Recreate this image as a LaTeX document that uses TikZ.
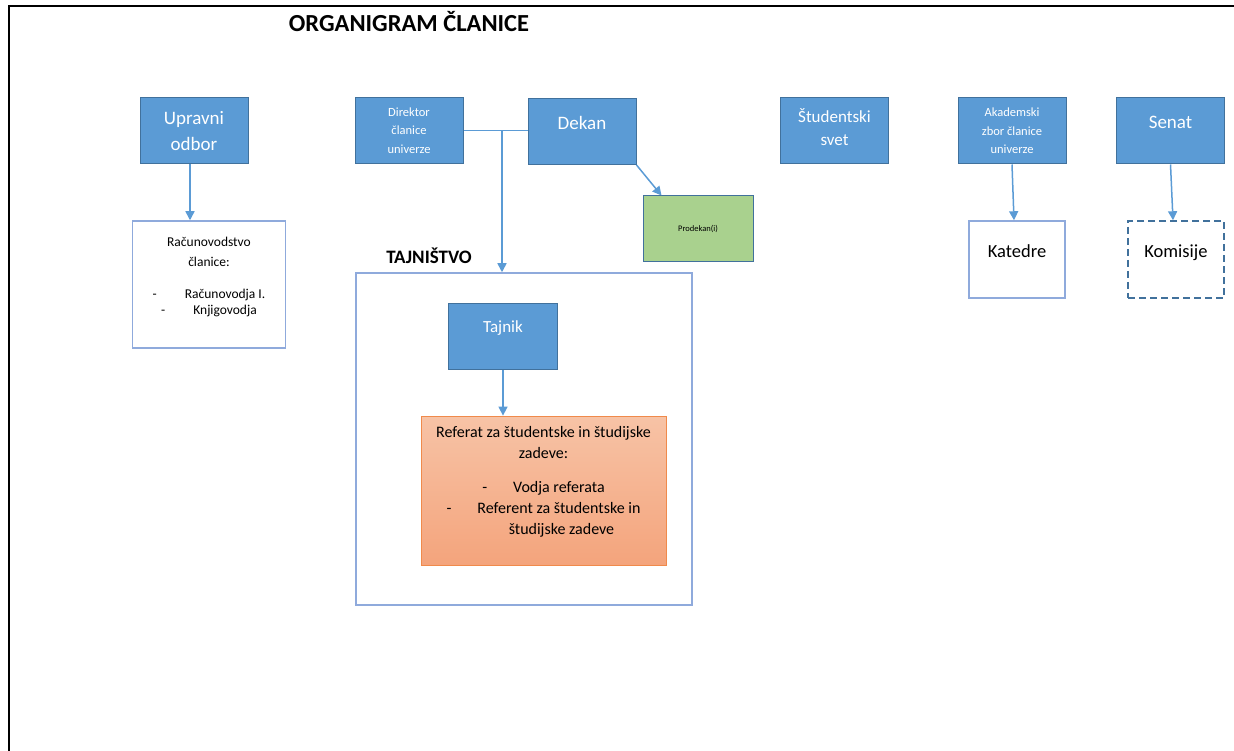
\documentclass[tikz,border=0pt]{standalone}
\usepackage{fontspec}
\setmainfont{Carlito}
\usepackage{tikz}
\usetikzlibrary{calc}
\usetikzlibrary{arrows.meta}
\usetikzlibrary{positioning}

\definecolor{boxblue}{HTML}{5B9BD5}
\definecolor{edgeblue}{HTML}{41719C}
\definecolor{paleblue}{HTML}{8FAADC}
\definecolor{linkblue}{HTML}{5B9BD5}
\definecolor{prodgreen}{HTML}{A9D18E}
\definecolor{reftop}{HTML}{F7C3A6}
\definecolor{refbot}{HTML}{F4A47C}
\definecolor{refedge}{HTML}{F08A4B}

\tikzset{
 bluebox/.style={draw=edgeblue, fill=boxblue, line width=1pt, text=white, inner sep=0pt, align=center, minimum width=108pt, minimum height=66pt},
 whitebox/.style={draw=paleblue, fill=white, line width=1.5pt, inner sep=0pt},
 link/.style={draw=linkblue, line width=1.5pt},
 linkarrow/.style={link, -{Triangle[width=9pt,length=9pt]}},
 bigtxt/.style={font=\fontsize{19}{26}\selectfont},
 midtxt/.style={font=\fontsize{17}{23}\selectfont},
 smalltxt/.style={font=\fontsize{12.5}{18.5}\selectfont},
}

\begin{document}
\begin{tikzpicture}[x=1pt, y=-1pt]
\useasboundingbox (0,0) rectangle (1234,751);
\draw[black, line width=2pt] (9,751) -- (9,6) -- (1234,6);
\node[font=\fontsize{24.5}{28}\selectfont\bfseries] (naslov) at (409,22) {ORGANIGRAM ČLANICE};

% zgornja vrsta
\node[bluebox, bigtxt] (upravni) at (194,131) {Upravni\\odbor};
\node[bluebox, smalltxt] (direktor) at (409,130.5) {Direktor\\članice\\univerze};
\node[bluebox, bigtxt, text depth=17pt] (dekan) at (582,131.5) {Dekan};
\node[bluebox, midtxt, text depth=7pt] (studsvet) at (834.5,131) {Študentski\\svet};
\node[bluebox, smalltxt] (akademski) at (1012,131) {Akademski\\zbor članice\\univerze};
\node[bluebox, bigtxt, text depth=17pt] (senat) at (1170.5,131) {Senat};

% racunovodstvo
\node[whitebox, minimum width=153pt, minimum height=127pt] (racun) at (209,284.5) {};
\node[anchor=north, align=center, inner sep=0pt, font=\fontsize{13.5}{20}\selectfont] (racuntxt) at ($(racun.north)+(0,16.5)$) {Računovodstvo\\članice:\\[12pt]-\hspace{28pt}Računovodja I.\\[-4pt]-\hspace{28pt}Knjigovodja};

\node[draw=edgeblue, fill=prodgreen, line width=1pt, inner sep=0pt, minimum width=110pt, minimum height=66pt, font=\fontsize{8.5}{10}\selectfont] (prodekan) at (698,229) {Prodekan(i)};

% tajnistvo
\node[font=\fontsize{19}{22}\selectfont\bfseries] (tajlabel) at (429,256) {TAJNIŠTVO};
\node[whitebox, minimum width=336pt, minimum height=332pt] (tajnistvo) at (524,439) {};
\node[bluebox, midtxt, text depth=19pt, minimum width=109pt] (tajnik) at (503,336.5) {Tajnik};
\node[draw=refedge, line width=0.8pt, top color=reftop, bottom color=refbot, inner sep=0pt, minimum width=245pt, minimum height=149pt] (referat) at (543.5,490.5) {};
\node[anchor=north, align=center, inner sep=0pt, font=\fontsize{16}{21}\selectfont] (referattxt) at ($(referat.north)+(0,11)$) {Referat za študentske in študijske\\zadeve:\\[13pt]-\hspace{26pt}Vodja referata\\-\hspace{26pt}Referent za študentske in\\\hspace*{36pt}študijske zadeve};

% katedre, komisije
\node[whitebox, font=\fontsize{18.5}{23}\selectfont, text depth=16pt, minimum width=96pt, minimum height=77pt] (katedre) at (1017,259.5) {Katedre};
\node[draw=edgeblue, fill=white, line width=1.5pt, dash pattern=on 7pt off 4pt, inner sep=0pt, font=\fontsize{18.5}{23}\selectfont, text depth=16pt, minimum width=96pt, minimum height=77pt] (komisije) at (1176,259.5) {Komisije};

% povezave
\coordinate (spoj) at (502,130.5);
\draw[link] (direktor.east) -- (direktor.east -| dekan.west);
\draw[linkarrow] (spoj) -- (spoj |- tajnistvo.north);
\draw[linkarrow] ($(upravni.south)+(-4,0)$) -- ($(upravni.south |- racun.north)+(-4,0)$);
\draw[linkarrow] (dekan.south east) -- ($(prodekan.north west)+(19,0)$);
\draw[linkarrow] (tajnik.south) -- (tajnik.south |- referat.north);
\draw[linkarrow] (akademski.south) -- ($(katedre.north)+(-3,0)$);
\draw[linkarrow] (senat.south) -- ($(komisije.north)+(-3,0)$);
\end{tikzpicture}
\end{document}
